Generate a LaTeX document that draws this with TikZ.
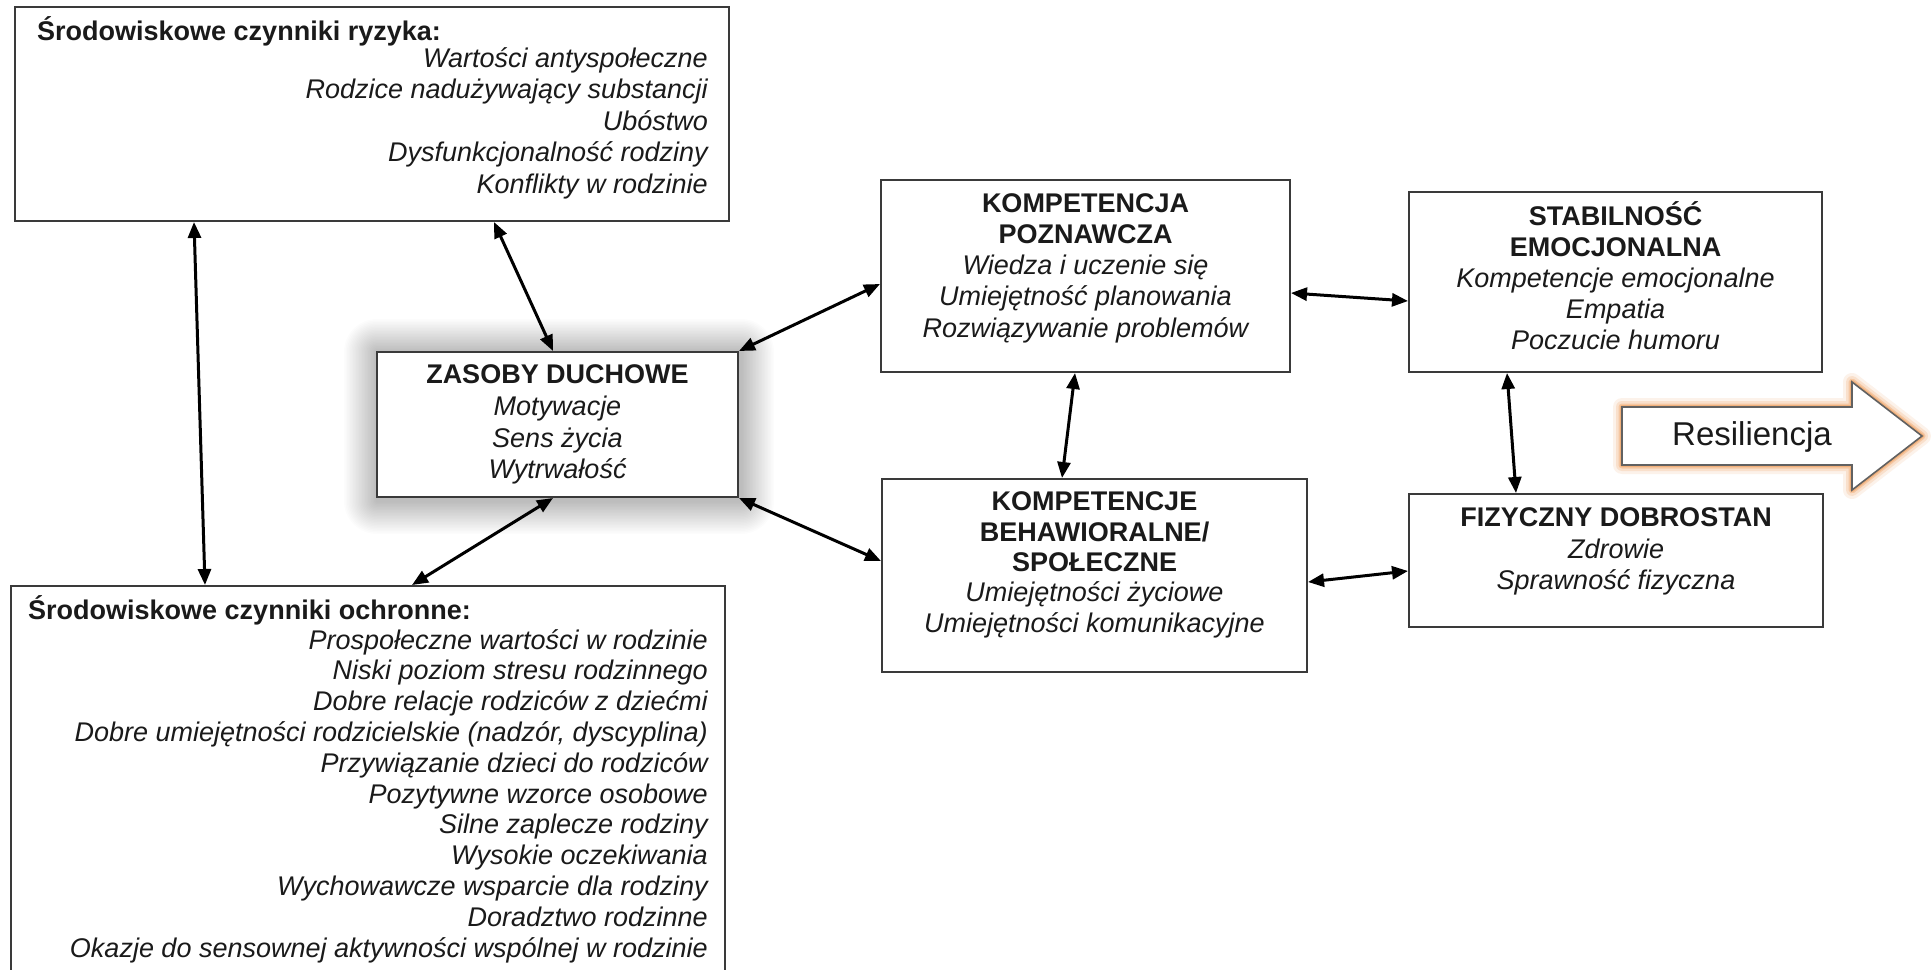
\documentclass[tikz,border=0pt]{standalone}
\usepackage{fontspec}
\setmainfont{Liberation Sans}
\usetikzlibrary{arrows.meta}
\definecolor{ink}{HTML}{1A1A1A}
\definecolor{frame}{HTML}{3A3A3A}
\definecolor{glow}{HTML}{EE9A55}
\pgfdeclarelayer{bg}
\pgfdeclarelayer{halo}
\pgfsetlayers{bg,halo,main}

\begin{document}
\begin{tikzpicture}[x=1pt,y=-1pt,
  box/.style={draw=frame, line width=2pt, fill=white, inner sep=0pt},
  body/.style={text=ink, inner sep=0pt, align=center,
    font=\fontsize{27pt}{#1pt}\selectfont,
    execute at begin node={\lineskiplimit=-30pt\relax}},
  itemlist/.style={body=#1, align=right,
    font=\fontsize{27pt}{#1pt}\selectfont\itshape},
  conn/.style={{Triangle[length=16pt,width=13pt]}-{Triangle[length=16pt,width=13pt]},
    line width=3pt, black},
]
\useasboundingbox (0,0) rectangle (1932,969);
\begin{pgfonlayer}{bg}
\fill[white] (0,0) rectangle (1932,969);
\end{pgfonlayer}
\clip (0,0) rectangle (1932,969);

% ---- boxes ----
\node[box, minimum width=714pt, minimum height=214pt] (risk) at (372,114) {};
\node[box, minimum width=714pt, minimum height=414pt] (ochr) at (368,793) {};
\node[box, minimum width=361pt, minimum height=145pt] (zas) at (557.5,424.5) {};
\node[box, minimum width=409pt, minimum height=192pt] (pozn) at (1085.5,276) {};
\node[box, minimum width=425pt, minimum height=193pt] (beh) at (1094.5,575.5) {};
\node[box, minimum width=413pt, minimum height=180pt] (stab) at (1615.5,282) {};
\node[box, minimum width=414pt, minimum height=133pt] (fiz) at (1616,560.5) {};

% soft grey halo behind the spiritual resources box
\begin{pgfonlayer}{halo}
\foreach \i in {1,...,22}
  \fill[black, opacity=0.011, rounded corners=1.5*\i pt]
    ([shift={(-1.5*\i pt+1pt,1.5*\i pt-1pt)}]zas.north west)
    rectangle ([shift={(1.5*\i pt+2pt,-1.5*\i pt-3pt)}]zas.south east);
\end{pgfonlayer}

% ---- texts ----
\node[body=31.5, anchor=west] (risk-h) at (37,33) {\textbf{\strut Środowiskowe czynniki ryzyka:}};
\node[itemlist=31.5, anchor=east] (risk-l) at (708,124) {%
  \strut Wartości antyspołeczne\\
  Rodzice nadużywający substancji\\
  Ubóstwo\\
  Dysfunkcjonalność rodziny\\
  Konflikty w rodzinie\strut};

\node[body=31.5, anchor=west] (ochr-h) at (28,612) {\textbf{\strut Środowiskowe czynniki ochronne:}};
\node[itemlist=30.8, anchor=east] (ochr-l) at (708,797) {%
  \strut Prospołeczne wartości w rodzinie\\
  Niski poziom stresu rodzinnego\\
  Dobre relacje rodziców z dziećmi\\
  Dobre umiejętności rodzicielskie (nadzór, dyscyplina)\\
  Przywiązanie dzieci do rodziców\\
  Pozytywne wzorce osobowe\\
  Silne zaplecze rodziny\\
  Wysokie oczekiwania\\
  Wychowawcze wsparcie dla rodziny\\
  Doradztwo rodzinne\\
  Okazje do sensownej aktywności wspólnej w rodzinie\strut};

\node[body=31.7] (zas-t) at (557.5,425) {\textbf{\strut ZASOBY DUCHOWE}\\
  \textit{Motywacje}\\ \textit{Sens życia}\\ \textit{Wytrwałość\strut}};

\node[body=31.2] (pozn-t) at (1085.5,268.5) {\textbf{\strut KOMPETENCJA}\\ \textbf{POZNAWCZA}\\
  \textit{Wiedza i uczenie się}\\ \textit{Umiejętność planowania}\\
  \textit{Rozwiązywanie problemów\strut}};

\node[body=30.3] (beh-t) at (1094.5,565.5) {\textbf{\strut KOMPETENCJE}\\ \textbf{BEHAWIORALNE/}\\
  \textbf{SPOŁECZNE}\\ \textit{Umiejętności życiowe}\\
  \textit{Umiejętności komunikacyjne\strut}};

\node[body=31] (stab-t) at (1615.5,280.5) {\textbf{\strut STABILNOŚĆ}\\ \textbf{EMOCJONALNA}\\
  \textit{Kompetencje emocjonalne}\\ \textit{Empatia}\\
  \textit{Poczucie humoru\strut}};

\node[body=31.5] (fiz-t) at (1616,552) {\textbf{\strut FIZYCZNY DOBROSTAN}\\
  \textit{Zdrowie}\\ \textit{Sprawność fizyczna\strut}};

% ---- outcome arrow ----
\foreach \w/\o in {18/0.12, 12/0.2, 7/0.35, 4/0.5}
  \draw[glow, line width=\w pt, opacity=\o, line join=round]
    (1622,407) -- (1852,407) -- (1852,382) -- (1922,436) -- (1852,490)
    -- (1852,465) -- (1622,465) -- cycle;
\draw[fill=white, draw=frame!80, line width=1.6pt, line join=miter]
    (1622,407) -- (1852,407) -- (1852,382) -- (1922,436) -- (1852,490)
    -- (1852,465) -- (1622,465) -- cycle;
\node[text=ink, inner sep=0pt, font=\fontsize{33pt}{40pt}\selectfont] (res) at (1752,437) {Resiliencja};

% ---- connectors ----
\draw[conn] ([xshift=180pt]risk.south west) -- ([xshift=195pt]ochr.north west);
\draw[conn] ([xshift=480pt]risk.south west) -- ([xshift=-4.5pt]zas.north);
\draw[conn] (zas.north east) -- ([yshift=-105pt]pozn.north west);
\draw[conn] (zas.south east) -- ([yshift=-83pt]beh.north west);
\draw[conn] ([xshift=-4.5pt]zas.south) -- ([xshift=402pt]ochr.north west);
\draw[conn] ([xshift=195pt]pozn.south west) -- ([xshift=181pt]beh.north west);
\draw[conn] ([yshift=-114pt]pozn.north east) -- ([yshift=-110pt]stab.north west);
\draw[conn] ([yshift=-104pt]beh.north east) -- ([yshift=-78pt]fiz.north west);
\draw[conn] ([xshift=99pt]stab.south west) -- ([xshift=108pt]fiz.north west);
\end{tikzpicture}
\end{document}
